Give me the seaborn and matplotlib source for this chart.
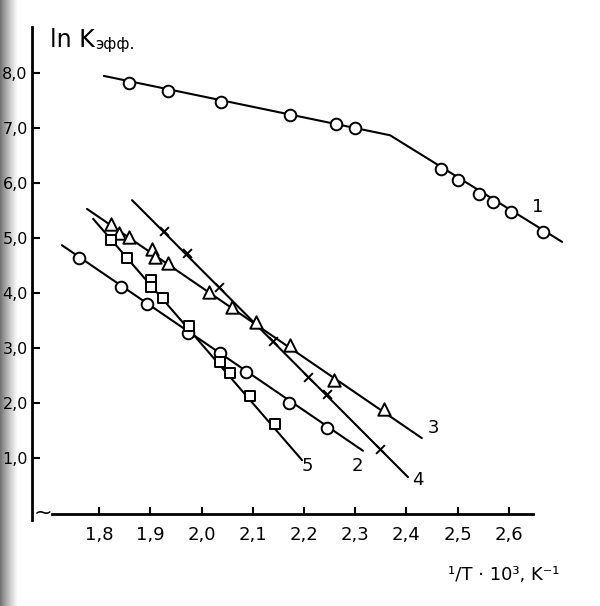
"""
Зависимость ln K эфф. от обратной температуры (скан графика, 5 серий)
"""

import numpy as np
import pandas as pd
import matplotlib
matplotlib.use('Agg')
import matplotlib.pyplot as plt
import seaborn as sns

# --- данные (x = 1/T*10^3, y = ln K) ---
x_ticks = [1.8, 1.9, 2.0, 2.1, 2.2, 2.3, 2.4, 2.5, 2.6]
x_tick_labels = ['1,8', '1,9', '2,0', '2,1', '2,2', '2,3', '2,4', '2,5', '2,6']
y_ticks = [8, 7, 6, 5, 4, 3, 2, 1]
y_tick_labels = ['8,0', '7,0', '6,0', '5,0', '4,0', '3,0', '2,0', '1,0']

# серия 1 (кружки, верхняя кривая с изломом)
x1 = [1.858, 1.934, 2.038, 2.172, 2.262, 2.299, 2.467, 2.500, 2.541, 2.569, 2.604, 2.667]
y1 = [7.82, 7.67, 7.47, 7.24, 7.07, 7.00, 6.25, 6.05, 5.80, 5.65, 5.47, 5.11]
x1_line = [1.809, 2.368, 2.704]
y1_line = [7.95, 6.87, 4.93]

# серия 2 (кружки)
x2 = [1.760, 1.842, 1.893, 1.973, 2.036, 2.087, 2.170, 2.245]
y2 = [4.64, 4.11, 3.80, 3.27, 2.91, 2.56, 2.00, 1.55]
x2_line = [1.727, 2.315]
y2_line = [4.87, 1.13]

# серия 3 (треугольники)
x3 = [1.823, 1.839, 1.858, 1.903, 1.909, 1.934, 2.015, 2.059, 2.106, 2.172, 2.258, 2.356]
y3 = [5.25, 5.09, 5.02, 4.80, 4.65, 4.55, 4.02, 3.75, 3.47, 3.05, 2.42, 1.89]
x3_line = [1.776, 2.430]
y3_line = [5.53, 1.36]

# серия 4 (крестики)
x4 = [1.927, 1.971, 2.034, 2.139, 2.208, 2.245, 2.348]
y4 = [5.13, 4.73, 4.11, 3.13, 2.47, 2.16, 1.16]
x4_line = [1.864, 2.403]
y4_line = [5.69, 0.65]

# серия 5 (квадраты)
x5 = [1.823, 1.854, 1.901, 1.901, 1.924, 1.975, 2.036, 2.055, 2.094, 2.143]
y5 = [4.96, 4.64, 4.24, 4.11, 3.91, 3.40, 2.75, 2.55, 2.13, 1.62]
x5_line = [1.788, 2.196]
y5_line = [5.35, 0.96]

# подписи кривых
curve_names = ['1', '2', '3', '4', '5']
label_x = [2.657, 2.305, 2.452, 2.423, 2.207]
label_y = [5.56, 0.85, 1.55, 0.60, 0.85]

sns.set_theme(style='white')
plt.rcParams['font.family'] = ['DejaVu Sans']

fig = plt.figure(figsize=(6, 6.06), dpi=100)
fig.patch.set_facecolor('white')

# тёмная полоса скана слева
bg = fig.add_axes([0, 0, 0.03, 1], zorder=0)
grad = np.linspace(0.25, 1.0, 50).reshape(1, -1) ** 0.6
bg.imshow(grad, aspect='auto', cmap='gray', vmin=0, vmax=1, extent=[0, 1, 0, 1])
bg.axis('off')

ax = fig.add_axes([32 / 600, 1 - 520 / 606, 568 / 600, 493 / 606], zorder=1)
ax.patch.set_alpha(0)
ax.set_xlim(1.6686, 2.778)
ax.set_ylim(-0.13, 8.84)

lines = [(x1_line, y1_line), (x2_line, y2_line), (x3_line, y3_line),
         (x4_line, y4_line), (x5_line, y5_line)]
for lx, ly in lines:
    sns.lineplot(x=lx, y=ly, ax=ax, color='black', linewidth=1.5,
                 estimator=None, sort=False, zorder=2)

pts = pd.DataFrame({
    'x': x1 + x2 + x3 + x5,
    'y': y1 + y2 + y3 + y5,
    'm': ['o'] * (len(x1) + len(x2)) + ['^'] * len(x3) + ['s'] * len(x5),
})
for m, size in [('o', 70), ('^', 80), ('s', 55)]:
    sub = pts[pts['m'] == m]
    sns.scatterplot(data=sub, x='x', y='y', marker=m, s=size, ax=ax,
                    facecolor='white', edgecolor='black', linewidth=1.4,
                    zorder=3, legend=False)
sns.scatterplot(x=x4, y=y4, marker='x', s=40, ax=ax, color='black',
                linewidth=1.4, zorder=3, legend=False)

for name, tx, ty in zip(curve_names, label_x, label_y):
    ax.text(tx, ty, name, fontsize=13, ha='center', va='center', color='black')

# оси
for side in ['top', 'right']:
    ax.spines[side].set_visible(False)
ax.spines['left'].set_linewidth(2)
ax.spines['left'].set_color('black')
ax.spines['bottom'].set_linewidth(2)
ax.spines['bottom'].set_color('black')
ax.spines['bottom'].set_position(('data', -0.02))
ax.spines['bottom'].set_bounds(1.708, 2.647)

ax.set_xticks(x_ticks)
ax.set_xticklabels(x_tick_labels, fontsize=13)
ax.set_yticks(y_ticks)
ax.set_yticklabels(y_tick_labels, fontsize=11.5)
ax.set_xlabel('')
ax.set_ylabel('')
ax.tick_params(axis='x', direction='in', length=5, width=1.5, pad=9,
               bottom=True, colors='black')
ax.tick_params(axis='y', direction='in', length=6, width=1.5, pad=3,
               left=True, colors='black')

ax.text(1.689, 0.0, '~', fontsize=16, ha='center', va='center', color='black')

fig.text(50 / 600, 1 - 40 / 606, 'ln K', fontsize=17, ha='left', va='center',
         color='black')
fig.text(95 / 600, 1 - 44 / 606, 'эфф.', fontsize=11, ha='left', va='center',
         color='black')
fig.text(448 / 600, 1 - 575 / 606, '¹/T · 10³, K⁻¹', fontsize=13, ha='left',
         va='center', color='black')

fig.savefig('out.png', dpi=100, facecolor='white')
plt.close(fig)
